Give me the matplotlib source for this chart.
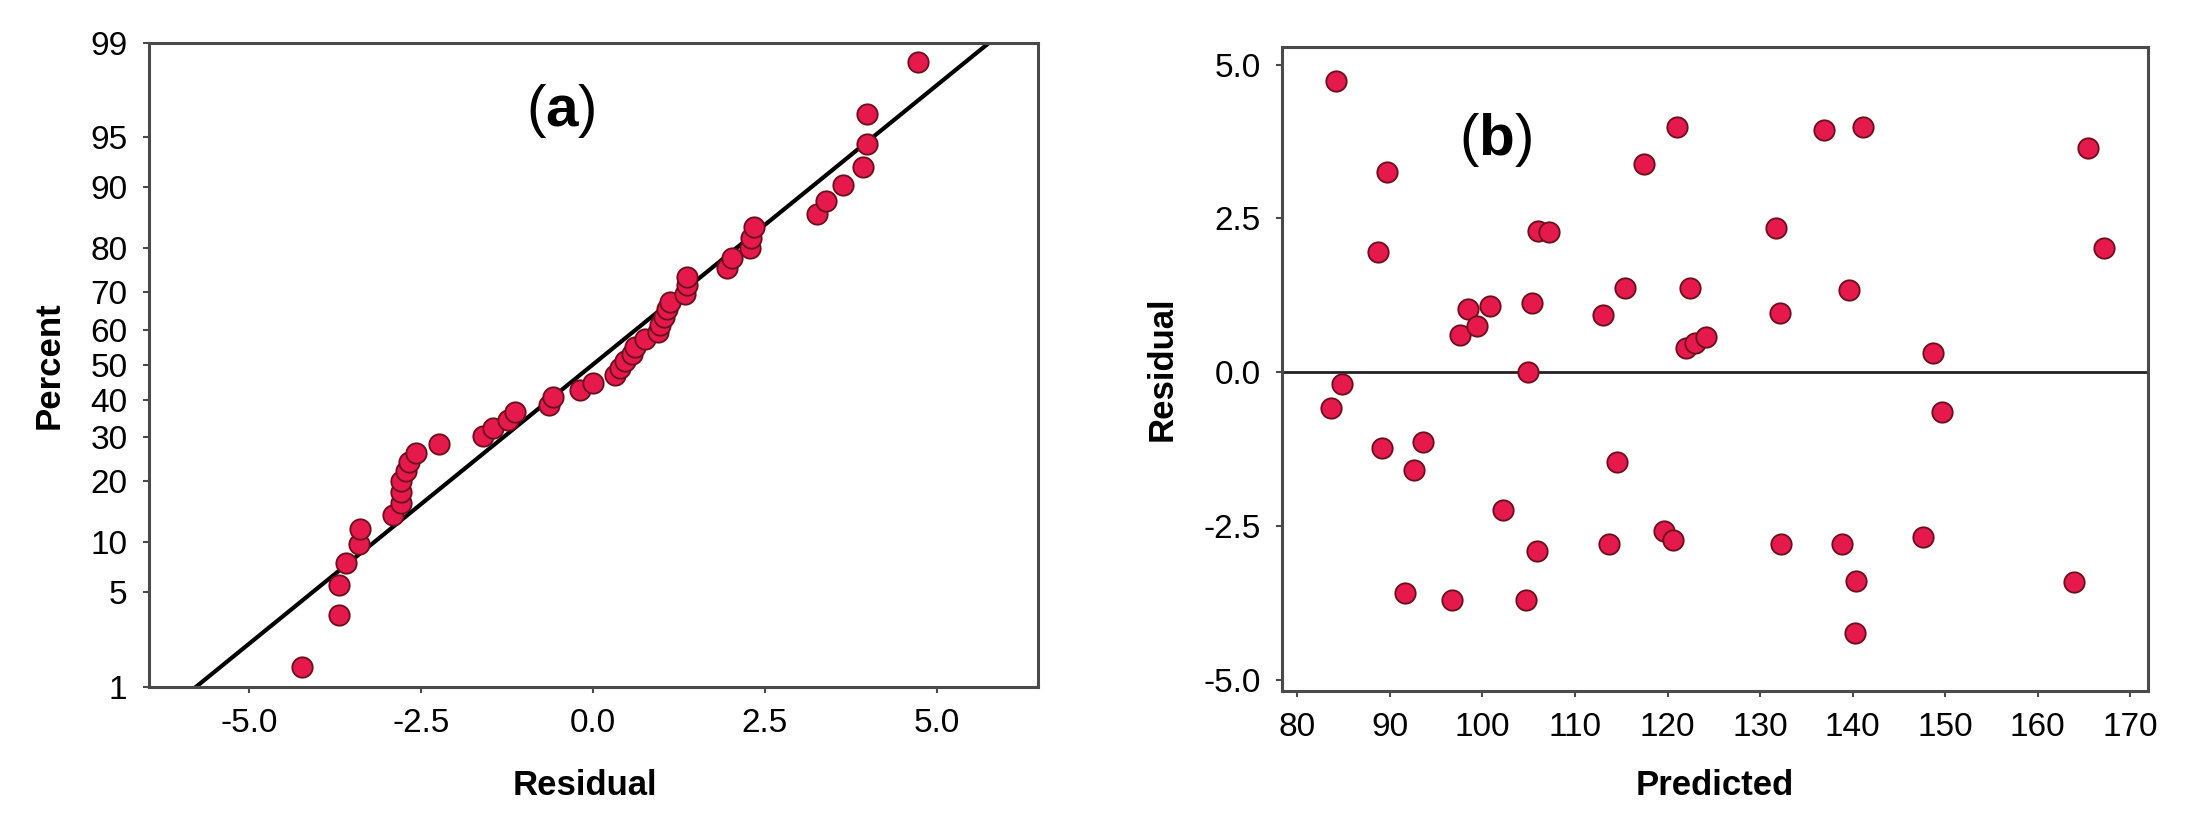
from statistics import NormalDist
import numpy as np
import matplotlib
matplotlib.use("Agg")
import matplotlib.pyplot as plt
from matplotlib import font_manager

# ----------------------
# Data (b): predicted value and residual per run
# ----------------------
predicted = [83.7, 84.2, 84.8, 88.7, 89.2, 89.7, 91.6, 92.6, 93.6, 96.7,
             97.6, 98.4, 99.4, 100.8, 102.2, 104.7, 104.9, 105.4, 105.9, 106.0,
             107.2, 113.0, 113.7, 114.5, 115.4, 117.5, 119.6, 120.6, 121.0, 122.0,
             122.4, 123.0, 124.2, 131.7, 132.1, 132.3, 136.9, 138.8, 139.6, 140.3,
             140.4, 141.1, 147.6, 148.7, 149.7, 163.9, 165.4, 167.1]
residual = [-0.58, 4.73, -0.19, 1.95, -1.23, 3.25, -3.58, -1.59, -1.13, -3.69,
            0.61, 1.03, 0.76, 1.08, -2.24, -3.69, 0.00, 1.12, -2.90, 2.30,
            2.28, 0.94, -2.79, -1.45, 1.37, 3.39, -2.57, -2.72, 3.98, 0.40,
            1.37, 0.47, 0.57, 2.34, 0.97, -2.79, 3.93, -2.79, 1.34, -4.23,
            -3.38, 3.98, -2.67, 0.32, -0.64, -3.40, 3.64, 2.02]

pct_ticks = [1, 5, 10, 20, 30, 40, 50, 60, 70, 80, 90, 95, 99]
res_ticks_a = [-5.0, -2.5, 0.0, 2.5, 5.0]
pred_ticks = [80, 90, 100, 110, 120, 130, 140, 150, 160, 170]
res_ticks_b = [-5.0, -2.5, 0.0, 2.5, 5.0]

# ----------------------
# Style
# ----------------------
names = {f.name for f in font_manager.fontManager.ttflist}
if "Liberation Sans Narrow" in names:
    FONT, TICK_FS, LAB_FS = "Liberation Sans Narrow", 28, 29
else:
    FONT, TICK_FS, LAB_FS = "Liberation Sans", 24, 25

plt.rcParams["font.family"] = [FONT, "DejaVu Sans"]
plt.rcParams["axes.unicode_minus"] = False
plt.rcParams["mathtext.fontset"] = "custom"
plt.rcParams["mathtext.bf"] = "Liberation Sans:bold"
plt.rcParams["mathtext.rm"] = "Liberation Sans"

SPINE = "#4a4a4a"
FACE = "#e5194b"
EDGE = "#6b0f1a"
MS = 215

nd = NormalDist()
fig = plt.figure(figsize=(21.91, 8.21), dpi=100)
ax_a = fig.add_axes([0.0680, 0.1636, 0.4058, 0.7844])
ax_b = fig.add_axes([0.5851, 0.1587, 0.3955, 0.7844])

for ax in (ax_a, ax_b):
    for s in ax.spines.values():
        s.set_color(SPINE)
        s.set_linewidth(2.2)
    ax.tick_params(direction="out", length=4.5, width=1.5, color=SPINE,
                   labelsize=TICK_FS, pad=11, top=False, right=False)

# ----------------------
# (a) normal probability plot of the residuals
# ----------------------
res_sorted = np.sort(residual)
n = len(res_sorted)
ranks = np.arange(1, n + 1)
z = np.array([nd.inv_cdf(p) for p in (ranks - 0.3) / (n + 0.4)])  # median ranks

mu, sd = np.mean(res_sorted), np.std(res_sorted, ddof=1)
zlo, zhi = nd.inv_cdf(0.01), nd.inv_cdf(0.99)
zz = np.array([zlo, zhi])
ax_a.plot(mu + sd * zz, zz, color="black", lw=3.0, zorder=2)
ax_a.scatter(res_sorted, z, s=MS, c=FACE, edgecolors=EDGE, linewidths=1.3, zorder=3)

ax_a.set_xlim(-6.45, 6.47)
ax_a.set_ylim(zlo, zhi)
ax_a.set_xticks(res_ticks_a)
ax_a.set_xticklabels([f"{v:.1f}" for v in res_ticks_a])
ax_a.set_yticks([nd.inv_cdf(p / 100) for p in pct_ticks])
ax_a.set_yticklabels([str(p) for p in pct_ticks])
ax_a.set_xlabel("Residual", fontsize=LAB_FS, fontweight="bold")
ax_a.set_ylabel("Percent", fontsize=LAB_FS, fontweight="bold")
ax_a.xaxis.set_label_coords(0.49, -0.168)
ax_a.xaxis.label.set_verticalalignment("baseline")
ax_a.yaxis.set_label_coords(-0.1125, 0.5)
ax_a.yaxis.label.set_verticalalignment("center")
ax_a.text(0.4634, 0.894, r"($\mathbf{a}$)", transform=ax_a.transAxes,
          ha="center", va="center", fontsize=42, family="Liberation Sans")

# ----------------------
# (b) residuals versus predicted values
# ----------------------
ax_b.axhline(0, color="#222222", lw=2.0, zorder=1)
ax_b.scatter(predicted, residual, s=MS, c=FACE, edgecolors=EDGE, linewidths=1.3, zorder=3)
ax_b.set_xlim(78.35, 171.96)
ax_b.set_ylim(-5.17, 5.29)
ax_b.set_xticks(pred_ticks)
ax_b.set_yticks(res_ticks_b)
ax_b.set_yticklabels([f"{v:.1f}" for v in res_ticks_b])
ax_b.set_xlabel("Predicted", fontsize=LAB_FS, fontweight="bold")
ax_b.set_ylabel("Residual", fontsize=LAB_FS, fontweight="bold")
ax_b.xaxis.set_label_coords(0.499, -0.162)
ax_b.xaxis.label.set_verticalalignment("baseline")
ax_b.yaxis.set_label_coords(-0.1385, 0.5)
ax_b.yaxis.label.set_verticalalignment("center")
ax_b.text(0.2458, 0.855, r"($\mathbf{b}$)", transform=ax_b.transAxes,
          ha="center", va="center", fontsize=42, family="Liberation Sans")

fig.savefig("out.png", dpi=100)
